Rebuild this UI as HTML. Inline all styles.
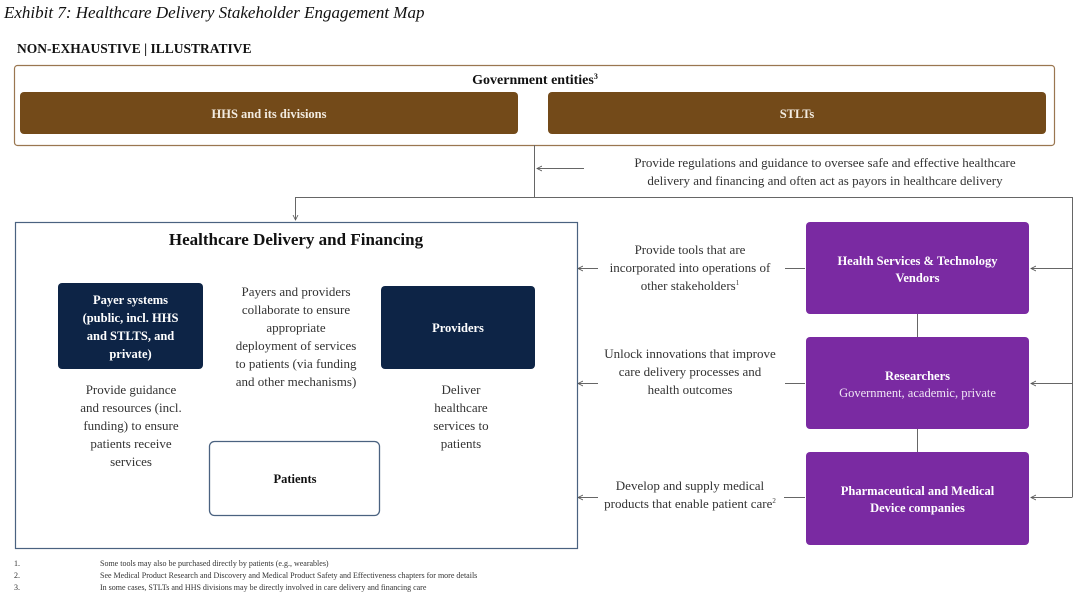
<!DOCTYPE html>
<html><head><meta charset="utf-8"><style>
body{margin:0;background:#fff;}
svg{display:block;font-family:"Liberation Serif",serif;}
</style></head><body>
<svg width="1080" height="595" viewBox="0 0 1080 595" xmlns="http://www.w3.org/2000/svg">
<defs><marker id="a" markerWidth="6" markerHeight="6" refX="5" refY="3" orient="auto"><path d="M0,0.5 L5,3 L0,5.5" fill="none" stroke="#555" stroke-width="0.8"/></marker></defs>
<text x="4" y="18" font-size="17" font-style="italic" fill="#111">Exhibit 7: Healthcare Delivery Stakeholder Engagement Map</text>
<text x="17" y="53" font-size="13.5" font-weight="bold" fill="#111">NON-EXHAUSTIVE | ILLUSTRATIVE</text>
<rect x="14.5" y="65.5" width="1040" height="80" rx="3" fill="#fff" stroke="#9a7650" stroke-width="1.2"/>
<text x="535" y="84" font-size="14" font-weight="bold" text-anchor="middle" fill="#111">Government entities<tspan font-size="8" dy="-5">3</tspan></text>
<rect x="20" y="92" width="498" height="42" rx="4" fill="#734a19"/>
<text x="269" y="118" font-size="12.5" font-weight="bold" text-anchor="middle" fill="#f2ebe0">HHS and its divisions</text>
<rect x="548" y="92" width="498" height="42" rx="4" fill="#734a19"/>
<text x="797" y="118" font-size="12.5" font-weight="bold" text-anchor="middle" fill="#f2ebe0">STLTs</text>
<g stroke="#666" stroke-width="1" fill="none">
<path d="M534.5 145 V197.5 H1072.5 V497"/>
<path d="M534.5 197.5 H295.5 V220" marker-end="url(#a)"/>
<path d="M584 168.5 H537" marker-end="url(#a)"/>
<path d="M1072.5 268.5 H1031" marker-end="url(#a)"/>
<path d="M1072.5 383.5 H1031" marker-end="url(#a)"/>
<path d="M1072.5 497.5 H1031" marker-end="url(#a)"/>
<path d="M805 268.5 H785"/><path d="M598 268.5 H578" marker-end="url(#a)"/>
<path d="M805 383.5 H785"/><path d="M598 383.5 H578" marker-end="url(#a)"/>
<path d="M805 497.5 H784"/><path d="M598 497.5 H578" marker-end="url(#a)"/>
<path d="M917.5 314 V337"/><path d="M917.5 429 V452"/>
<path d="M204 327.5 H228"/><path d="M363 327.5 H379" marker-end="url(#a)"/>
<path d="M131.5 369 V383"/><path d="M131.5 465 V478.5 H207" marker-end="url(#a)"/>
<path d="M457.5 369 V383"/><path d="M457.5 457 V478.5 H382" marker-end="url(#a)"/>
</g>
<text font-size="13" text-anchor="middle" fill="#333"><tspan x="825" y="167">Provide regulations and guidance to oversee safe and effective healthcare</tspan><tspan x="825" y="185">delivery and financing and often act as payors in healthcare delivery</tspan></text>
<rect x="15.5" y="222.5" width="562" height="326" fill="#fff" stroke="#4a6280" stroke-width="1.2"/>
<text x="296" y="245" font-size="17" font-weight="bold" text-anchor="middle" fill="#111">Healthcare Delivery and Financing</text>
<rect x="58" y="283" width="145" height="86" rx="4" fill="#0d2446"/>
<text font-size="12.5" font-weight="bold" text-anchor="middle" fill="#fff"><tspan x="130.5" y="304">Payer systems</tspan><tspan x="130.5" y="322">(public, incl. HHS</tspan><tspan x="130.5" y="340">and STLTS, and</tspan><tspan x="130.5" y="358">private)</tspan></text>
<rect x="381" y="286" width="154" height="83" rx="4" fill="#0d2446"/>
<text x="458" y="332" font-size="12.5" font-weight="bold" text-anchor="middle" fill="#fff">Providers</text>
<text font-size="13" text-anchor="middle" fill="#333"><tspan x="296" y="296">Payers and providers</tspan><tspan x="296" y="314">collaborate to ensure</tspan><tspan x="296" y="332">appropriate</tspan><tspan x="296" y="350">deployment of services</tspan><tspan x="296" y="368">to patients (via funding</tspan><tspan x="296" y="386">and other mechanisms)</tspan></text>
<text font-size="13" text-anchor="middle" fill="#333"><tspan x="131" y="394">Provide guidance</tspan><tspan x="131" y="412">and resources (incl.</tspan><tspan x="131" y="430">funding) to ensure</tspan><tspan x="131" y="448">patients receive</tspan><tspan x="131" y="466">services</tspan></text>
<text font-size="13" text-anchor="middle" fill="#333"><tspan x="461" y="394">Deliver</tspan><tspan x="461" y="412">healthcare</tspan><tspan x="461" y="430">services to</tspan><tspan x="461" y="448">patients</tspan></text>
<rect x="209.5" y="441.5" width="170" height="74" rx="5" fill="#fff" stroke="#4a6280" stroke-width="1.3"/>
<text x="295" y="483" font-size="12.5" font-weight="bold" text-anchor="middle" fill="#111">Patients</text>
<rect x="806" y="222" width="223" height="92" rx="4" fill="#7a2aa2"/>
<text font-size="12.5" font-weight="bold" text-anchor="middle" fill="#fff"><tspan x="917.5" y="265">Health Services &amp; Technology</tspan><tspan x="917.5" y="282">Vendors</tspan></text>
<rect x="806" y="337" width="223" height="92" rx="4" fill="#7a2aa2"/>
<text font-size="12.5" text-anchor="middle" fill="#f0e6f5"><tspan x="917.5" y="380" font-weight="bold" fill="#fff">Researchers</tspan><tspan x="917.5" y="397">Government, academic, private</tspan></text>
<rect x="806" y="452" width="223" height="93" rx="4" fill="#7a2aa2"/>
<text font-size="12.5" font-weight="bold" text-anchor="middle" fill="#fff"><tspan x="917.5" y="495">Pharmaceutical and Medical</tspan><tspan x="917.5" y="512">Device companies</tspan></text>
<text font-size="13" text-anchor="middle" fill="#333"><tspan x="690" y="254">Provide tools that are</tspan><tspan x="690" y="272">incorporated into operations of</tspan><tspan x="690" y="290">other stakeholders<tspan font-size="7" dy="-5">1</tspan></tspan></text>
<text font-size="13" text-anchor="middle" fill="#333"><tspan x="690" y="358">Unlock innovations that improve</tspan><tspan x="690" y="376">care delivery processes and</tspan><tspan x="690" y="394">health outcomes</tspan></text>
<text font-size="13" text-anchor="middle" fill="#333"><tspan x="690" y="490">Develop and supply medical</tspan><tspan x="690" y="508">products that enable patient care<tspan font-size="7" dy="-5">2</tspan></tspan></text>
<g font-size="8" fill="#333">
<text x="14" y="566">1.</text><text x="100" y="566">Some tools may also be purchased directly by patients (e.g., wearables)</text>
<text x="14" y="578">2.</text><text x="100" y="578">See Medical Product Research and Discovery and Medical Product Safety and Effectiveness chapters for more details</text>
<text x="14" y="590">3.</text><text x="100" y="590">In some cases, STLTs and HHS divisions may be directly involved in care delivery and financing care</text>
</g>
</svg>
</body></html>
